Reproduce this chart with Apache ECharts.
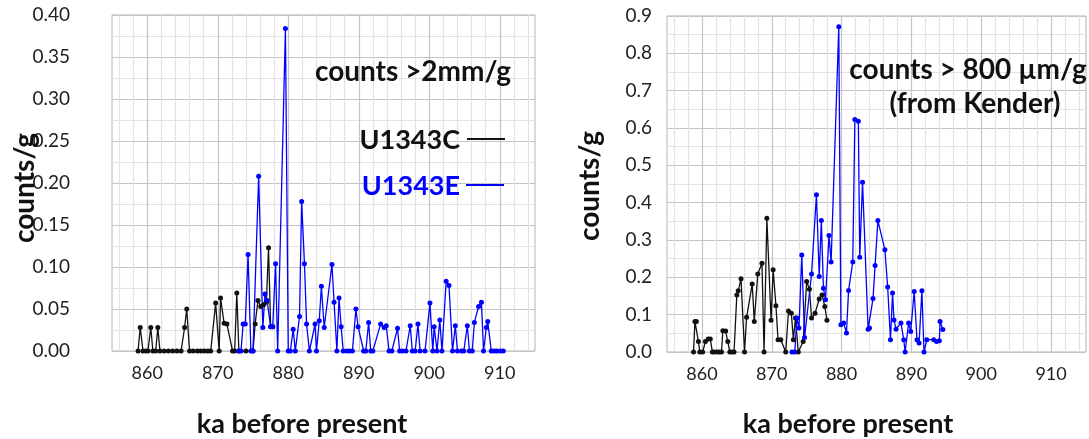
<!DOCTYPE html>
<html>
<head>
<meta charset="utf-8">
<script src="https://cdn.jsdelivr.net/npm/echarts@6/dist/echarts.min.js"></script>
<style>
  html, body { margin: 0; padding: 0; background: #ffffff; }
  #chart { width: 1089px; height: 439px; }
</style>
</head>
<body>
<div id="chart"></div>
<script>
// Clast counts per gram vs. age (ka before present), two size fractions.

// Left panel: counts > 2 mm / g
const coarseAgeC = [858.7, 859.0, 859.4, 859.8, 860.1, 860.5, 860.8, 861.2, 861.5, 861.8, 862.4, 863.0, 863.6, 864.2, 864.8, 865.3, 865.6, 866.0, 866.5, 867.1, 867.6, 868.1, 868.6, 869.0, 869.7, 870.2, 870.4, 870.9, 871.3, 872.1, 872.4, 872.7, 873.0, 874.0, 875.0, 875.3, 875.7, 876.1, 876.5, 876.9, 877.2, 877.5, 877.8];
const coarseCountC = [0, 0.028, 0, 0, 0, 0.028, 0, 0, 0.028, 0, 0, 0, 0, 0, 0, 0.028, 0.050, 0, 0, 0, 0, 0, 0, 0, 0.057, 0, 0.063, 0.033, 0.032, 0, 0, 0.069, 0, 0, 0, 0.032, 0.060, 0.053, 0.055, 0.058, 0.123, 0.029, 0.029];

const coarseAgeE = [873.0, 873.3, 873.6, 873.9, 874.3, 874.7, 875.0, 875.8, 876.4, 876.7, 877.0, 877.5, 877.8, 878.2, 878.5, 879.6, 880.0, 880.3, 880.7, 881.0, 881.6, 881.9, 882.3, 882.6, 883.0, 883.8, 884.0, 884.4, 884.7, 885.1, 886.2, 886.5, 886.9, 887.2, 887.5, 887.8, 888.3, 888.7, 889.1, 889.6, 889.9, 890.7, 891.0, 891.4, 891.7, 892.0, 893.1, 893.6, 893.9, 894.3, 894.7, 895.5, 895.8, 896.2, 896.7, 897.3, 897.6, 898.0, 898.4, 898.7, 899.4, 900.1, 900.5, 900.7, 901.1, 901.5, 901.8, 902.4, 902.8, 903.3, 903.7, 904.0, 904.6, 904.9, 905.4, 905.7, 906.1, 906.4, 907.0, 907.4, 907.7, 908.1, 908.3, 908.8, 909.2, 909.6, 910.1, 910.5];
const coarseCountE = [0, 0, 0.032, 0.032, 0.115, 0, 0, 0.208, 0.028, 0.068, 0.060, 0.029, 0.029, 0.104, 0, 0.384, 0, 0, 0.026, 0, 0.041, 0.178, 0.104, 0.032, 0, 0.032, 0, 0.036, 0.077, 0.028, 0.103, 0.058, 0, 0.063, 0.029, 0, 0, 0, 0, 0.050, 0.029, 0, 0, 0.034, 0, 0, 0.032, 0.028, 0.030, 0, 0, 0.027, 0, 0, 0, 0.030, 0, 0, 0.032, 0, 0, 0.057, 0, 0.029, 0, 0.037, 0, 0.083, 0.078, 0, 0.030, 0, 0, 0, 0.030, 0, 0, 0.034, 0.053, 0.058, 0, 0.028, 0.035, 0, 0, 0, 0, 0];

// Right panel: counts > 800 µm / g (from Kender)
const fineAgeC = [858.8, 859.0, 859.2, 859.5, 859.7, 860.1, 860.5, 860.9, 861.2, 861.5, 861.8, 862.2, 862.5, 862.8, 863.0, 863.4, 863.7, 864.0, 864.3, 864.6, 865.0, 865.2, 865.6, 866.1, 866.4, 867.2, 867.5, 868.0, 868.6, 868.9, 869.3, 869.9, 870.2, 870.6, 870.9, 871.3, 872.0, 872.4, 872.8, 873.1, 873.4, 873.8, 874.5, 875.0, 875.4, 875.7, 876.2, 876.8, 877.2, 877.6, 877.9];
const fineCountC = [0, 0.082, 0.082, 0.028, 0, 0, 0.028, 0.035, 0.035, 0, 0, 0, 0, 0, 0.057, 0.056, 0.028, 0, 0, 0, 0.153, 0.164, 0.196, 0, 0.093, 0.182, 0.082, 0.209, 0.238, 0, 0.358, 0.085, 0.220, 0.124, 0.033, 0.033, 0, 0.110, 0.104, 0.033, 0.091, 0, 0.028, 0.189, 0.168, 0.091, 0.104, 0.142, 0.153, 0.122, 0.085];

const fineAgeE = [872.9, 873.3, 873.6, 873.9, 874.3, 874.7, 875.7, 876.4, 876.8, 877.1, 877.4, 877.7, 878.2, 878.5, 879.6, 879.9, 880.3, 880.7, 881.0, 881.6, 881.9, 882.4, 882.6, 883.0, 883.8, 884.0, 884.5, 884.8, 885.2, 886.2, 886.6, 887.0, 887.3, 887.5, 887.8, 888.5, 888.9, 889.1, 889.6, 889.9, 890.4, 890.8, 891.1, 891.5, 891.8, 892.2, 893.2, 893.6, 894.0, 894.1, 894.5];
const fineCountE = [0, 0, 0.091, 0.064, 0.260, 0.039, 0.209, 0.421, 0.202, 0.352, 0.171, 0.140, 0.312, 0.241, 0.871, 0.073, 0.078, 0.051, 0.165, 0.241, 0.623, 0.618, 0.254, 0.455, 0.061, 0.064, 0.143, 0.232, 0.352, 0.274, 0.174, 0.033, 0.158, 0.086, 0.061, 0.078, 0.033, 0, 0.078, 0.055, 0.162, 0.033, 0.024, 0.164, 0, 0.033, 0.033, 0.028, 0.030, 0.082, 0.060];

// Axis ranges and labelled ticks
const ageMin = 855, ageMax = 915;
const ageTickLabels = [860, 870, 880, 890, 900, 910];
const coarseMax = 0.40, fineMax = 0.9;

const FONT = 'Lato, "Open Sans", sans-serif';
const MAJOR = '#c4c4c4';
const MINOR = '#e2e2e2';
const NONE = 'rgba(0,0,0,0)';
const BLACK = '#111111';
const BLUE = '#0000ff';

function zip(xs, ys) { return xs.map((x, i) => [x, ys[i]]); }

// x split lines every 1 ka starting at 855: majors on decades, minors on even years
const xLineColors = [NONE, MINOR, NONE, MINOR, NONE, MAJOR, NONE, MINOR, NONE, MINOR];

function ageAxis(gridIndex) {
  return {
    type: 'value', gridIndex, min: ageMin, max: ageMax, interval: 1,
    axisLine: { show: false }, axisTick: { show: false },
    axisLabel: {
      margin: 13, color: '#222', fontFamily: FONT, fontSize: 18,
      formatter: v => {
        const r = Math.round(v);
        return (Math.abs(v - r) < 1e-6 && ageTickLabels.includes(r)) ? String(r) : '';
      }
    },
    splitLine: { show: true, lineStyle: { color: xLineColors, width: 1.2 } }
  };
}

function countAxis(gridIndex, max, step, digits, margin) {
  const labelEvery = Math.round(step * 2 * 1000);
  return {
    type: 'value', gridIndex, min: 0, max, interval: step,
    axisLine: { show: false }, axisTick: { show: false },
    axisLabel: {
      margin, color: '#222', fontFamily: FONT, fontSize: 19,
      formatter: v => (Math.round(v * 1000) % labelEvery === 0) ? v.toFixed(digits) : ''
    },
    splitLine: { show: true, lineStyle: { color: [MAJOR, MINOR], width: 1.2 } }
  };
}

function lineSeries(name, xi, data, color) {
  return {
    name, type: 'line', xAxisIndex: xi, yAxisIndex: xi, data,
    symbol: 'circle', symbolSize: 5, showSymbol: true,
    itemStyle: { color },
    lineStyle: { color, width: 1.3 },
    animation: false
  };
}

function text(x, y, str, size, opts) {
  return Object.assign({
    type: 'text', x, y, z: 100,
    style: Object.assign({
      text: str, fill: BLACK, font: 'bold ' + size + 'px ' + FONT,
      textAlign: 'center', textVerticalAlign: 'middle'
    }, opts && opts.style)
  }, opts && opts.el);
}

const chart = echarts.init(document.getElementById('chart'));
chart.setOption({
  backgroundColor: '#ffffff',
  animation: false,
  grid: [
    { left: 112, top: 15, width: 423, height: 336, show: true, borderColor: '#b4b4b4', borderWidth: 1, backgroundColor: 'transparent' },
    { left: 667, top: 16, width: 424, height: 336, show: true, borderColor: '#b4b4b4', borderWidth: 1, backgroundColor: 'transparent' }
  ],
  xAxis: [ageAxis(0), ageAxis(1)],
  yAxis: [
    countAxis(0, coarseMax, 0.025, 2, 42),
    countAxis(1, fineMax, 0.05, 1, 15)
  ],
  series: [
    lineSeries('U1343C', 0, zip(coarseAgeC, coarseCountC), BLACK),
    lineSeries('U1343E', 0, zip(coarseAgeE, coarseCountE), BLUE),
    lineSeries('U1343C', 1, zip(fineAgeC, fineCountC), BLACK),
    lineSeries('U1343E', 1, zip(fineAgeE, fineCountE), BLUE)
  ],
  graphic: [
    // axis titles
    text(25, 188, 'counts/g', 28, { el: { rotation: Math.PI / 2 } }),
    text(590, 186, 'counts/g', 28, { el: { rotation: Math.PI / 2 } }),
    text(302, 424, 'ka before present', 27),
    text(848, 424, 'ka before present', 27),
    // left panel annotations
    text(413, 72, 'counts >2mm/g', 28),
    text(460, 140, 'U1343C', 27, { style: { textAlign: 'right' } }),
    { type: 'line', z: 100, shape: { x1: 467, y1: 139, x2: 505, y2: 139 }, style: { stroke: BLACK, lineWidth: 2 } },
    text(460, 186, 'U1343E', 27, { style: { textAlign: 'right', fill: BLUE } }),
    { type: 'line', z: 100, shape: { x1: 466, y1: 185, x2: 504, y2: 185 }, style: { stroke: BLUE, lineWidth: 2 } },
    // right panel annotations
    text(968, 70, 'counts > 800 µm/g', 28),
    text(975, 104, '(from Kender)', 28)
  ]
});
</script>
</body>
</html>
